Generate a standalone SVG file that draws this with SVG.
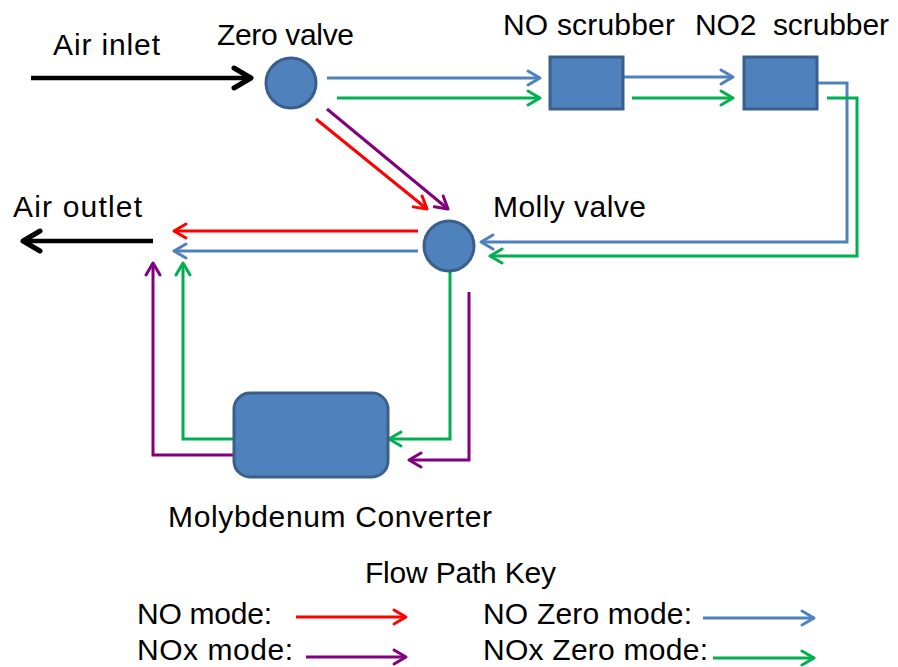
<svg xmlns="http://www.w3.org/2000/svg" width="898" height="667" viewBox="0 0 898 667">
<defs>
<style>
text{font-family:"Liberation Sans",Arial,sans-serif;font-size:30px;fill:#000}
.c{fill:none;stroke-width:3}
.k{stroke:#000;stroke-width:4.5;fill:none}
.b{stroke:#4F81BD}
.g{stroke:#00B050}
.r{stroke:#FF0000}
.p{stroke:#800080}
.node{fill:#4F81BD;stroke:#3A5F8C;stroke-width:3}
</style>
<marker id="ak" markerUnits="userSpaceOnUse" orient="auto" refX="0" refY="0" markerWidth="30" markerHeight="30" viewBox="-20 -15 30 30" overflow="visible"><path d="M-17,-10 L0,0 L-17,10" fill="none" stroke="#000" stroke-width="5" stroke-linecap="round" stroke-linejoin="round"/></marker>
<marker id="ab" markerUnits="userSpaceOnUse" orient="auto" refX="0" refY="0" markerWidth="30" markerHeight="30" viewBox="-20 -15 30 30" overflow="visible"><path d="M-12,-7 L0,0 L-12,7" fill="none" stroke="#4F81BD" stroke-width="3" stroke-linecap="round" stroke-linejoin="round"/></marker>
<marker id="ag" markerUnits="userSpaceOnUse" orient="auto" refX="0" refY="0" markerWidth="30" markerHeight="30" viewBox="-20 -15 30 30" overflow="visible"><path d="M-12,-7 L0,0 L-12,7" fill="none" stroke="#00B050" stroke-width="3" stroke-linecap="round" stroke-linejoin="round"/></marker>
<marker id="ar" markerUnits="userSpaceOnUse" orient="auto" refX="0" refY="0" markerWidth="30" markerHeight="30" viewBox="-20 -15 30 30" overflow="visible"><path d="M-12,-7 L0,0 L-12,7" fill="none" stroke="#FF0000" stroke-width="3" stroke-linecap="round" stroke-linejoin="round"/></marker>
<marker id="ap" markerUnits="userSpaceOnUse" orient="auto" refX="0" refY="0" markerWidth="30" markerHeight="30" viewBox="-20 -15 30 30" overflow="visible"><path d="M-12,-7 L0,0 L-12,7" fill="none" stroke="#800080" stroke-width="3" stroke-linecap="round" stroke-linejoin="round"/></marker>
</defs>
<rect width="898" height="667" fill="#fff"/>

<g id="connectors">
<path class="k" d="M31,78 L251,78" marker-end="url(#ak)"/>
<path class="k" d="M153,241 L23,241" marker-end="url(#ak)"/>
<path class="c b" d="M327,78 L540,78" marker-end="url(#ab)"/>
<path class="c g" d="M337,98 L540,98" marker-end="url(#ag)"/>
<path class="c b" d="M623,77 L733,77" marker-end="url(#ab)"/>
<path class="c g" d="M632,98 L733,98" marker-end="url(#ag)"/>
<path class="c b" d="M817,83 L847,83 L847,242 L481,242" marker-end="url(#ab)"/>
<path class="c g" d="M827,98 L857,98 L857,256 L490,256" marker-end="url(#ag)"/>
<path class="c r" d="M316,119 L427,209" marker-end="url(#ar)"/>
<path class="c p" d="M327,109 L448,209" marker-end="url(#ap)"/>
<path class="c r" d="M418,231 L174,231" marker-end="url(#ar)"/>
<path class="c b" d="M418,251 L174,251" marker-end="url(#ab)"/>
<path class="c g" d="M450,272 L450,439 L389,439" marker-end="url(#ag)"/>
<path class="c p" d="M469,292 L469,460 L409,460" marker-end="url(#ap)"/>
<path class="c g" d="M235,439 L183,439 L183,263" marker-end="url(#ag)"/>
<path class="c p" d="M235,455 L153,455 L153,263" marker-end="url(#ap)"/>
</g>

<g id="air-inlet"><text x="53" y="55" textLength="107">Air inlet</text></g>
<g id="air-outlet"><text x="13" y="217" textLength="129">Air outlet</text></g>
<g id="zero-valve">
<circle class="node" cx="291" cy="83" r="25"/>
<text x="217" y="45" textLength="137">Zero valve</text>
</g>
<g id="no-scrubber">
<rect class="node" x="550" y="57" width="73" height="52"/>
<text x="503" y="35" textLength="172">NO scrubber</text>
</g>
<g id="no2-scrubber">
<rect class="node" x="744" y="57" width="73" height="52"/>
<text x="695" y="35" textLength="194" xml:space="preserve">NO2  scrubber</text>
</g>
<g id="molly-valve">
<circle class="node" cx="449" cy="246" r="25"/>
<text x="493" y="217" textLength="153">Molly valve</text>
</g>
<g id="molybdenum-converter">
<rect class="node" x="234" y="393" width="154" height="84" rx="16"/>
<text x="168" y="527" textLength="324">Molybdenum Converter</text>
</g>

<g id="key">
<text x="365" y="583" textLength="191">Flow Path Key</text>
<text x="137" y="624" textLength="135">NO mode:</text>
<text x="137" y="660" textLength="156">NOx mode:</text>
<text x="483" y="624" textLength="209">NO Zero mode:</text>
<text x="483" y="660" textLength="225">NOx Zero mode:</text>
<path class="c r" d="M296,617 L406,617" marker-end="url(#ar)"/>
<path class="c p" d="M306,657 L406,657" marker-end="url(#ap)"/>
<path class="c b" d="M703,618 L814,618" marker-end="url(#ab)"/>
<path class="c g" d="M713,658 L814,658" marker-end="url(#ag)"/>
</g>
</svg>
